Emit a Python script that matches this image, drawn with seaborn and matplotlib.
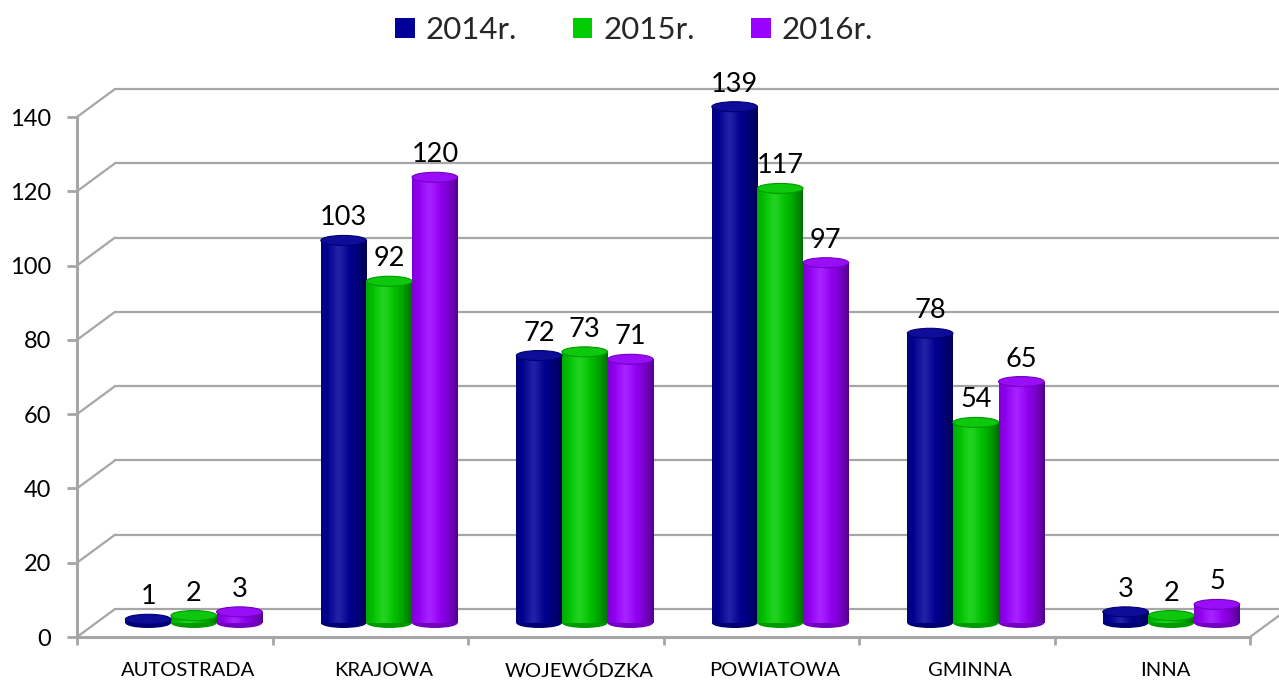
import numpy as np
import pandas as pd
import matplotlib
matplotlib.use("Agg")
import matplotlib.pyplot as plt
import matplotlib.colors as mcolors
import seaborn as sns
from matplotlib.transforms import ScaledTranslation
from matplotlib.patches import Ellipse, Rectangle, ConnectionPatch

# ---- data ----
categories = ["AUTOSTRADA", "KRAJOWA", "WOJEWÓDZKA", "POWIATOWA", "GMINNA", "INNA"]
years = ["2014r.", "2015r.", "2016r."]
v2014 = [1, 103, 72, 139, 78, 3]
v2015 = [2, 92, 73, 117, 54, 2]
v2016 = [3, 120, 71, 97, 65, 5]
colors = ["#000099", "#00CC00", "#9900FF"]
yticks = [0, 20, 40, 60, 80, 100, 120, 140]

df = pd.DataFrame({
    "cat": categories * 3,
    "val": v2014 + v2015 + v2016,
    "year": [years[0]] * 6 + [years[1]] * 6 + [years[2]] * 6,
})

sns.set_theme(style="white")
plt.rcParams['font.family'] = ['Lato', 'DejaVu Sans']

W, H = 1279, 683
fig = plt.figure(figsize=(W / 100, H / 100), dpi=100)
ax = fig.add_axes([77 / W, 46 / H, (1250 - 77) / W, 520 / H])

sns.barplot(data=df, x="cat", y="val", hue="year", palette=colors,
            width=0.7, ax=ax, legend=False, saturation=1, zorder=3)
bars = [p for p in ax.patches if isinstance(p, Rectangle)]

ax.set_xlim(-0.5, 5.5)
ax.set_ylim(0, 140)

grid_c = "#A6A6A6"
back = ax.transData + ScaledTranslation(0.38, 0.28, fig.dpi_scale_trans)
mid = ax.transData + ScaledTranslation(0.19, 0.14, fig.dpi_scale_trans)

# back wall gridlines and left wall diagonals
for v in yticks:
    ax.plot([-0.5, 5.7], [v, v], color=grid_c, lw=1.6, transform=back,
            clip_on=False, zorder=1)
    cp = ConnectionPatch(xyA=(-0.5, v), coordsA=ax.transData,
                         xyB=(-0.5, v), coordsB=back, color=grid_c, lw=1.6,
                         zorder=1)
    ax.add_artist(cp)
cp = ConnectionPatch(xyA=(5.5, 0), coordsA=ax.transData,
                     xyB=(5.5, 0), coordsB=back, color=grid_c, lw=1.6, zorder=1)
ax.add_artist(cp)

# spines / ticks
for s in ["top", "right"]:
    ax.spines[s].set_visible(False)
for s in ["left", "bottom"]:
    ax.spines[s].set_color(grid_c)
    ax.spines[s].set_linewidth(2.2)
    ax.spines[s].set_zorder(2)
ax.set_yticks(yticks)
ax.set_yticklabels([str(t) for t in yticks], fontsize=17, color="black")
ax.tick_params(axis="y", direction="out", length=7.5, width=2, color=grid_c,
               pad=11, left=True)
ax.set_xticks(range(len(categories)))
ax.set_xticklabels([])
ax.set_xticks(np.arange(-0.5, 5.6, 1.0), minor=True)
ax.tick_params(axis="x", which="major", length=0)
ax.tick_params(axis="x", which="minor", direction="out", length=6, width=2,
               color=grid_c, bottom=True)
ax.set_xlabel("")
ax.set_ylabel("")
ax.grid(False)

lab_tr = ax.get_xaxis_transform() + ScaledTranslation(0.13, -0.34, fig.dpi_scale_trans)
for i, c in enumerate(categories):
    ax.text(i, 0, c, transform=lab_tr, ha="center", va="center", fontsize=14.5,
            color="black")

# cylinders
px_per_unit = 520 / 140.0
ell_h = 10 / px_per_unit
ncols = 64
tt = np.linspace(0, 1, ncols)
lab_off = ax.transData + ScaledTranslation(0.19, 0.14 + 0.15, fig.dpi_scale_trans)
for bar in bars:
    x, w, h = bar.get_x(), bar.get_width(), bar.get_height()
    base = np.array(mcolors.to_rgb(bar.get_facecolor()))
    dark = np.clip(((tt - 0.38) / 0.62) ** 2, 0, 1) * 0.45
    light = np.clip(1 - np.abs(tt - 0.38) / 0.25, 0, 1) * 0.14
    grad = base[None, :] * (1 - dark[:, None]) + (1 - base[None, :]) * light[:, None]
    grad = np.clip(grad, 0, 1)
    img = np.tile(grad[None, :, :], (2, 1, 1))
    cx = x + w / 2
    eb = Ellipse((cx, 0), w, ell_h, transform=mid,
                 facecolor=tuple(base * 0.75), edgecolor="none", zorder=3,
                 clip_on=False)
    ax.add_patch(eb)
    bar.set_transform(mid)
    bar.set_clip_on(False)
    bar.set_edgecolor("none")
    bar.set_zorder(3.1)
    im = ax.imshow(img, extent=[x, x + w, 0, h], transform=mid, aspect="auto",
                   interpolation="bilinear", zorder=3.2)
    im.set_clip_path(bar)
    et = Ellipse((cx, h), w, ell_h, transform=mid,
                 facecolor=tuple(np.clip(base * 0.92 + 0.05, 0, 1)),
                 edgecolor=tuple(base * 0.75), lw=0.8, zorder=3.3,
                 clip_on=False)
    ax.add_patch(et)
    ax.text(cx, h, f"{int(round(h))}", transform=lab_off, ha="center",
            va="baseline", fontsize=19.5, color="black", zorder=5)

ax.set_xlim(-0.5, 5.5)
ax.set_ylim(0, 140)

handles = [Rectangle((0, 0), 1, 1, facecolor=c, edgecolor="none") for c in colors]
fig.legend(handles, years, loc="center", bbox_to_anchor=(634 / W, 1 - 30 / H),
           ncol=3, frameon=False, fontsize=22.5, handlelength=0.62,
           handleheight=0.62, handletextpad=0.35, columnspacing=1.8)

fig.savefig("out.png", dpi=100)
